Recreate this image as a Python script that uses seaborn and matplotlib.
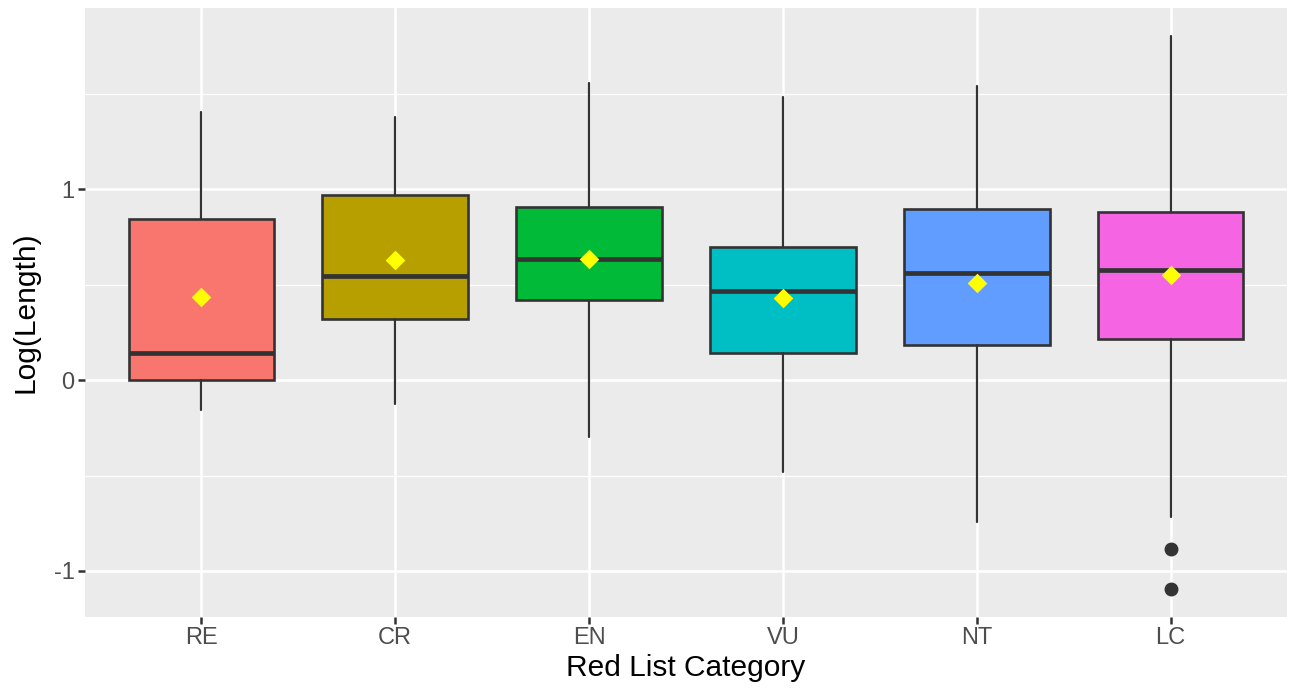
import matplotlib
matplotlib.use("Agg")
import matplotlib.pyplot as plt
import seaborn as sns
import pandas as pd
import numpy as np

# ---- data ----
categories = ["RE", "CR", "EN", "VU", "NT", "LC"]
whisker_low = [-0.158, -0.125, -0.300, -0.480, -0.742, -0.716]
q1 = [0.000, 0.322, 0.419, 0.141, 0.183, 0.216]
median = [0.144, 0.545, 0.634, 0.466, 0.563, 0.577]
q3 = [0.844, 0.969, 0.907, 0.698, 0.897, 0.883]
whisker_high = [1.405, 1.380, 1.558, 1.484, 1.542, 1.804]
means = [0.434, 0.631, 0.634, 0.431, 0.510, 0.552]
outliers = [[], [], [], [], [], [-0.886, -1.096]]
colors = ["#F8766D", "#B79F00", "#00BA38", "#00BFC4", "#619CFF", "#F564E3"]

sns.set_theme(style="darkgrid", rc={
    "axes.facecolor": "#EBEBEB",
    "grid.color": "white",
    "axes.edgecolor": "#EBEBEB",
    "xtick.bottom": True,
    "ytick.left": True,
})
plt.rcParams["font.family"] = ["Liberation Sans", "DejaVu Sans"]

fig = plt.figure(figsize=(12.95, 6.95), dpi=100)
ax = fig.add_axes([85 / 1295, 1 - 617 / 695, (1287 - 85) / 1295, (617 - 8) / 695])

stats = []
for i, c in enumerate(categories):
    stats.append(dict(label=c, whislo=whisker_low[i], q1=q1[i], med=median[i],
                      q3=q3[i], whishi=whisker_high[i], fliers=outliers[i]))

line_col = "#333333"
bp = ax.bxp(stats, positions=range(len(categories)), widths=0.75,
            patch_artist=True, showcaps=False,
            boxprops=dict(edgecolor=line_col, linewidth=1.9),
            medianprops=dict(color=line_col, linewidth=3.4, solid_capstyle="butt"),
            whiskerprops=dict(color=line_col, linewidth=1.6),
            flierprops=dict(marker="o", markerfacecolor=line_col,
                            markeredgecolor=line_col, markersize=9),
            zorder=3)
for patch, col in zip(bp["boxes"], colors):
    patch.set_facecolor(col)

mean_df = pd.DataFrame({"pos": np.arange(len(categories)), "mean": means})
sns.scatterplot(data=mean_df, x="pos", y="mean", marker="D", color="#FFFF00",
                s=100, linewidth=0, ax=ax, zorder=5)

ax.set_xlim(-0.6, len(categories) - 0.4)
ax.set_ylim(-1.241, 1.949)
ax.set_xticks(range(len(categories)))
ax.set_xticklabels(categories)
ax.set_yticks([-1, 0, 1])
ax.set_yticklabels(["-1", "0", "1"])
ax.set_yticks([-0.5, 0.5, 1.5], minor=True)
ax.grid(True, which="major", color="white", linewidth=1.8)
ax.grid(True, which="minor", axis="y", color="white", linewidth=0.9)
ax.set_axisbelow(True)
for s in ax.spines.values():
    s.set_visible(False)

ax.tick_params(axis="both", which="major", length=5, width=1.8, color=line_col,
               labelcolor="#4D4D4D", labelsize=17, pad=2.5)
ax.tick_params(axis="y", which="minor", length=0, left=False)
ax.set_xlabel("Red List Category", fontsize=21.5, color="black", labelpad=3)
ax.set_ylabel("Log(Length)", fontsize=21.5, color="black", labelpad=10)

fig.savefig("out.png", dpi=100, facecolor="white")
